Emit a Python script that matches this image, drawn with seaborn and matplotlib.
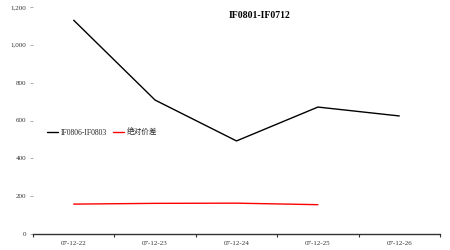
import numpy as np
import pandas as pd
import matplotlib
matplotlib.use("Agg")
import matplotlib.pyplot as plt
import seaborn as sns

dates = ["07-12-22", "07-12-23", "07-12-24", "07-12-25", "07-12-26"]
spread_a = [1130, 708, 492, 671, 624]
spread_b = [158, 162, 163, 155, np.nan]
series_names = ["IF0806-IF0803", "绝对价差"]
title = "IF0801-IF0712"
yticks = [0, 200, 400, 600, 800, 1000, 1200]

sns.set_theme(style="white")
plt.rcParams['font.family'] = ['Liberation Serif', 'Noto Sans CJK SC', 'DejaVu Sans']

df = pd.DataFrame({
    "date": dates * 2,
    "x": list(range(len(dates))) * 2,
    "value": spread_a + spread_b,
    "series": [series_names[0]] * len(dates) + [series_names[1]] * len(dates),
})

fig = plt.figure(figsize=(4.5, 2.5), dpi=100)
ax = fig.add_axes([33 / 450, 16 / 250, 407 / 450, 227 / 250])
sns.lineplot(data=df, x="x", y="value", hue="series",
             palette={series_names[0]: "#000000", series_names[1]: "#ff0000"},
             linewidth=1.0, ax=ax, legend=True)

ax.set_xlim(-0.5, len(dates) - 0.5)
ax.set_ylim(0, 1200)
ax.set_xticks(range(len(dates)))
ax.set_xticklabels(dates, fontsize=5, color="#333333")
ax.set_xticks(np.arange(-0.5, len(dates), 1.0), minor=True)
ax.tick_params(axis="x", which="major", length=0, pad=5)
ax.tick_params(axis="x", which="minor", length=2, width=0.8, color="#333333", direction="out", bottom=True)
ax.set_yticks(yticks)
ax.set_yticklabels([f"{v:,}" for v in yticks], fontsize=5, color="#333333")
ax.tick_params(axis="y", length=2, width=0.5, color="#888888", left=True, pad=3)
ax.set_xlabel("")
ax.set_ylabel("")
for s in ["top", "right", "left"]:
    ax.spines[s].set_visible(False)
ax.spines["bottom"].set_color("#333333")
ax.spines["bottom"].set_linewidth(1.0)

fig.text(260 / 450, 1 - 16 / 250, title, ha="center", va="center",
         fontsize=7, fontweight="bold", color="#000000")

handles, labels = ax.get_legend_handles_labels()
ax.legend(handles, labels, loc="center left", bbox_to_anchor=(40 / 450, 1 - 133 / 250),
          bbox_transform=fig.transFigure, ncol=2, frameon=False, fontsize=5.5,
          handlelength=1.5, columnspacing=0.8, handletextpad=0.3)

fig.savefig("out.png", dpi=100, facecolor="white")
